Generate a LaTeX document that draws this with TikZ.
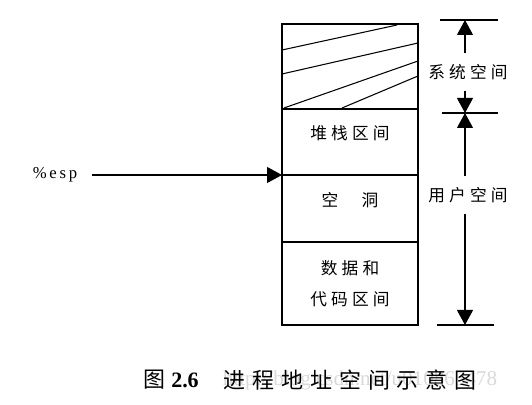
\documentclass[tikz,border=0pt]{standalone}
\usepackage{fontspec}
\setmainfont{Liberation Serif}
\newfontfamily\cjk{Noto Sans CJK SC}
\newfontfamily\cjkwide[LetterSpace=25]{Noto Sans CJK SC}
\usetikzlibrary{arrows.meta}

\tikzset{
  lbl/.style={font=\cjkwide\fontsize{9.5}{12}\selectfont},
  dimline/.style={semithick, -{Triangle[length=0.3cm,width=0.32cm]}},
}

\begin{document}
\begin{tikzpicture}[x=0.02cm, y=-0.02cm]
            \useasboundingbox (0,0) rectangle (532,405);

            % the address space column
            \draw[line width=0.9pt] (282,24) rectangle (418,325);
            \draw[line width=0.9pt] (282,109) -- (418,109);
            \draw[line width=0.9pt] (282,175) -- (418,175);
            \draw[line width=0.9pt] (282,242) -- (418,242);

            % hatching of the system part
            \draw[semithick] (282,50) -- (397,25);
            \draw[semithick] (282,74) -- (418,43);
            \draw[semithick] (284,108) -- (418,61);
            \draw[semithick] (342,108) -- (418,76);

            \node[lbl] (stack) at (350,133) {堆栈区间};
            \node[lbl] (hole) at (350,200) {空\hspace{1.4em}洞};
            \node[lbl] (data) at (350,268) {数据和};
            \node[lbl] (code) at (350,299) {代码区间};

            % stack pointer
            \node[font=\fontsize{9.5}{12}\selectfont] (esp) at (55,175) {\%\,e\,s\,p};
            \coordinate (sp) at (282,175);
            \draw[dimline, shorten <=5pt] (esp.east) -- (sp);

            % dimensions on the right
            \coordinate (systop) at (465,20);
            \coordinate (sysbot) at (465,113);
            \coordinate (usrbot) at (465,325);
            \draw[semithick] (440,20) -- (498,20);
            \draw[semithick] (442,113) -- (498,113);
            \draw[semithick] (437,325) -- (494,325);

            \node[lbl, inner sep=6pt] (sys) at (468,72) {系统空间};
            \node[lbl, inner sep=6pt] (usr) at (468,195) {用户空间};
            \draw[dimline] (sys.north -| systop) -- (systop);
            \draw[dimline] (sys.south -| systop) -- (sysbot);
            \draw[dimline] (usr.north -| sysbot) -- (sysbot);
            \draw[dimline] (usr.south -| sysbot) -- (usrbot);

            % caption
            \node[gray!30, font=\fontsize{12}{14}\selectfont] (mark) at (360,380) {http://blog.csdn.net/u010865478};
            \node[font=\cjk\fontsize{12.5}{14}\selectfont] (fig) at (154,380) {图};
            \node[font=\bfseries\fontsize{12.5}{14}\selectfont] (num) at (185,380) {2.6};
            \node[font=\cjk\fontsize{12.5}{14}\selectfont] (title) at (350,380)
                {进\hspace{4pt}程\hspace{4pt}地\hspace{4pt}址\hspace{4pt}空\hspace{4pt}间\hspace{4pt}示\hspace{4pt}意\hspace{4pt}图};
        \end{tikzpicture}
\end{document}
